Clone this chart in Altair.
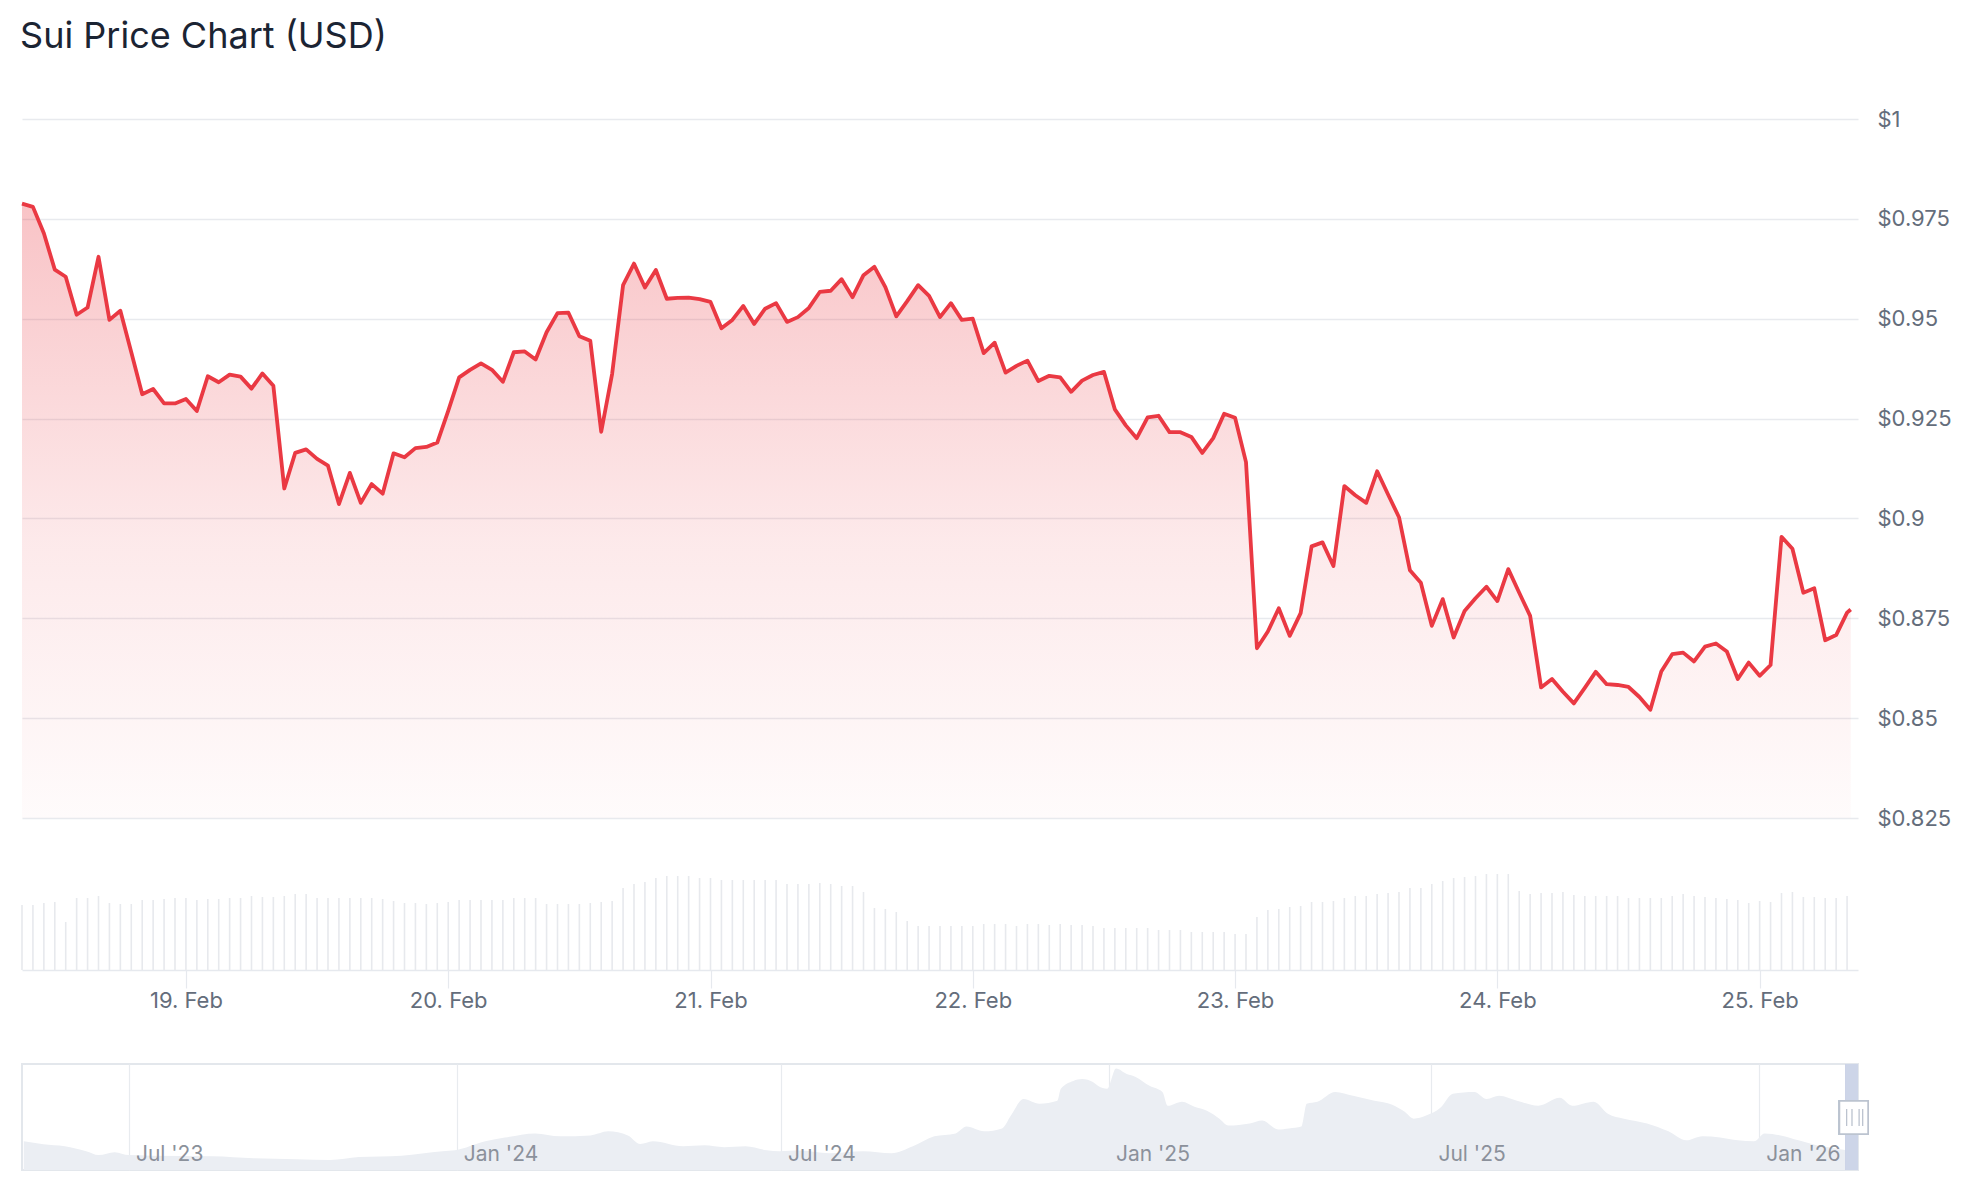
import altair as alt
import pandas as pd

# ---------------- data ----------------
prices = [
    0.9788, 0.9780, 0.9714, 0.9623, 0.9605, 0.9510, 0.9528, 0.9655, 0.9497, 0.9520,
    0.9416, 0.9311, 0.9324, 0.9288, 0.9288, 0.9299, 0.9269, 0.9356, 0.9341, 0.9360,
    0.9355, 0.9325, 0.9363, 0.9332, 0.9075, 0.9164, 0.9173, 0.9149, 0.9132, 0.9036,
    0.9114, 0.9039, 0.9086, 0.9062, 0.9163, 0.9153, 0.9176, 0.9179, 0.9190, 0.9269,
    0.9353, 0.9372, 0.9388, 0.9372, 0.9342, 0.9416, 0.9418, 0.9398, 0.9466, 0.9514,
    0.9515, 0.9456, 0.9445, 0.9217, 0.9362, 0.9584, 0.9638, 0.9578, 0.9622, 0.9550,
    0.9552, 0.9553, 0.9549, 0.9542, 0.9476, 0.9497, 0.9532, 0.9487, 0.9525, 0.9539,
    0.9492, 0.9504, 0.9527, 0.9567, 0.9570, 0.9599, 0.9554, 0.9609, 0.9630, 0.9579,
    0.9506, 0.9544, 0.9584, 0.9557, 0.9504, 0.9539, 0.9497, 0.9500, 0.9414, 0.9440,
    0.9365, 0.9382, 0.9395, 0.9344, 0.9357, 0.9353, 0.9317, 0.9345, 0.9359, 0.9367,
    0.9273, 0.9233, 0.9201, 0.9253, 0.9257, 0.9216, 0.9216, 0.9204, 0.9164, 0.9201,
    0.9262, 0.9252, 0.9141, 0.8675, 0.8717, 0.8775, 0.8706, 0.8763, 0.8930, 0.8940,
    0.8881, 0.9081, 0.9058, 0.9039, 0.9118, 0.9060, 0.9003, 0.8870, 0.8839, 0.8731,
    0.8798, 0.8702, 0.8768, 0.8800, 0.8829, 0.8793, 0.8873, 0.8814, 0.8756, 0.8577,
    0.8598, 0.8566, 0.8537, 0.8576, 0.8616, 0.8585, 0.8583, 0.8578, 0.8553, 0.8521,
    0.8617, 0.8660, 0.8664, 0.8642, 0.8679, 0.8687, 0.8667, 0.8598, 0.8639, 0.8606,
    0.8633, 0.8954, 0.8924, 0.8814, 0.8825, 0.8695, 0.8708, 0.8764, 0.8772,
]
price_last_time = "2026-02-25T08:20:00"

volumes = [
    65, 65, 67, 68, 48, 72, 72, 74, 67, 66, 66, 70, 70, 71, 72, 72, 70, 71, 71, 72,
    72, 74, 73, 73, 74, 76, 76, 72, 72, 72, 72, 72, 72, 71, 69, 67, 67, 66, 67, 68,
    70, 70, 70, 70, 70, 72, 72, 72, 66, 66, 66, 66, 67, 68, 69, 82, 86, 88, 92,
    94, 94, 94, 92, 92, 90, 90, 90, 90, 90, 90, 86, 86, 86, 87, 86, 84, 84, 78, 62,
    61, 58, 49, 44, 44, 44, 44, 44, 44, 46, 46, 46, 44, 46, 46, 45, 46, 45, 45, 44,
    42, 42, 42, 42, 42, 40, 40, 40, 38, 38, 38, 38, 36, 36,
    53, 60, 61, 63,
    64, 68, 68, 69, 72, 74, 74, 76, 77, 78, 82, 82, 86, 89, 92, 93, 94, 96, 96, 96,
    79, 76, 77, 77, 78, 75, 74, 74, 74, 74, 72, 72, 72, 72, 74, 76, 74, 73, 72, 71,
    70, 67, 69, 68, 77, 78, 73, 73, 72, 72, 74,
]

nav_dates = [
    "2023-05-03", "2023-05-14", "2023-05-26", "2023-06-07", "2023-06-14", "2023-06-23",
    "2023-07-01", "2023-07-13", "2023-08-17", "2023-09-09", "2023-10-03", "2023-10-22",
    "2023-11-07", "2023-12-01", "2023-12-24", "2023-12-31", "2024-01-17", "2024-01-28",
    "2024-02-14", "2024-02-28", "2024-03-16", "2024-03-26", "2024-04-06", "2024-04-13",
    "2024-04-20", "2024-05-07", "2024-05-19", "2024-05-30", "2024-06-11", "2024-06-23",
    "2024-06-30", "2024-07-12", "2024-07-28", "2024-08-16", "2024-09-01", "2024-09-13",
    "2024-09-25", "2024-10-07", "2024-10-13", "2024-10-23", "2024-11-02", "2024-11-07",
    "2024-11-14", "2024-11-23", "2024-12-03", "2024-12-05", "2024-12-12", "2024-12-17",
    "2024-12-23", "2024-12-26", "2024-12-31", "2025-01-05", "2025-01-11", "2025-01-16",
    "2025-01-24", "2025-01-31", "2025-02-03", "2025-02-11", "2025-02-18", "2025-02-25",
    "2025-03-04", "2025-03-09", "2025-03-21", "2025-03-28", "2025-04-06", "2025-04-12",
    "2025-04-19", "2025-04-22", "2025-04-28", "2025-05-08", "2025-05-18", "2025-05-30",
    "2025-06-09", "2025-06-16", "2025-06-21", "2025-06-28", "2025-07-06", "2025-07-13",
    "2025-07-25", "2025-08-01", "2025-08-08", "2025-08-18", "2025-08-30", "2025-09-11",
    "2025-09-18", "2025-09-30", "2025-10-08", "2025-10-17", "2025-10-30", "2025-11-11",
    "2025-11-21", "2025-11-30", "2025-12-10", "2025-12-20", "2025-12-29", "2026-01-04",
    "2026-01-13", "2026-01-23", "2026-02-02", "2026-02-12", "2026-02-19", "2026-02-25",
]
nav_prices = [
    1.40, 1.24, 1.13, 0.86, 0.65, 0.81,
    0.65, 0.62, 0.59, 0.48, 0.43, 0.38,
    0.54, 0.62, 0.86, 0.91, 1.40, 1.60,
    1.83, 1.67, 1.72, 1.94, 1.72, 1.25,
    1.40, 1.13, 1.18, 1.08, 1.13, 0.91,
    0.86, 0.90, 0.75, 0.86, 0.75, 1.13,
    1.67, 1.83, 2.20, 1.94, 2.10, 2.80,
    3.70, 3.44, 3.60, 4.25, 4.68, 4.78,
    4.62, 4.40, 4.25, 5.35, 5.05, 4.90,
    4.40, 4.08, 3.33, 3.55, 3.28, 3.06,
    2.63, 2.26, 2.37, 2.53, 2.04, 2.10,
    2.20, 3.44, 3.55, 4.08, 3.87, 3.60,
    3.39, 3.00, 2.63, 2.80, 3.22, 3.98,
    4.08, 3.70, 3.87, 3.60, 3.33, 3.76,
    3.33, 3.55, 2.90, 2.63, 2.37, 1.94,
    1.45, 1.67, 1.61, 1.45, 1.40, 1.83,
    1.72, 1.45, 1.18, 1.02, 0.91, 0.877,
]

price_ticks = [0.825, 0.85, 0.875, 0.9, 0.925, 0.95, 0.975, 1.0]
nav_label_dates = ["2023-07-01", "2024-01-01", "2024-07-01", "2025-01-01", "2025-07-01", "2026-01-01"]
nav_label_text = ["Jul '23", "Jan '24", "Jul '24", "Jan '25", "Jul '25", "Jan '26"]

# ---------------- frames ----------------
hours = pd.date_range("2026-02-18T09:00:00", periods=len(volumes), freq="h")
price_times = [t.strftime("%Y-%m-%dT%H:%M:%S") for t in hours] + [price_last_time]
price_df = pd.DataFrame({"t": price_times, "p": prices})
vol_df = pd.DataFrame({"t": [t.strftime("%Y-%m-%dT%H:%M:%S") for t in hours], "v": volumes})
nav_df = pd.DataFrame({"d": nav_dates, "p": nav_prices})
nav_lab_df = pd.DataFrame({"d": nav_label_dates, "label": nav_label_text})

# ---------------- layout constants ----------------
W = 1836
PRICE_H = 699
VOL_TOP = 741
TOP_H = 851
NAV_H = 106
FONT = "Inter"
LABEL_COLOR = "#646d7b"
GRID = "#e8eaee"

x_start = alt.DateTime(year=2026, month=2, date=18, hours=9)
x_end = alt.DateTime(year=2026, month=2, date=25, hours=9)
x_scale = alt.Scale(domain=[x_start, x_end])
x_axis = alt.Axis(
    format="%-d. %b",
    tickCount=alt.TimeIntervalStep(interval="day", step=1),
    grid=False,
    domainColor="#e6e9ee",
    domainWidth=1.5,
    tickColor="#e6e9ee",
    tickWidth=1.2,
    tickSize=18,
    labelPadding=2,
    labelFontSize=22,
    labelFont=FONT,
    labelColor=LABEL_COLOR,
    title=None,
)
x_enc = alt.X("t:T", scale=x_scale, axis=x_axis, title=None)

price_scale = alt.Scale(domain=[0.825, 1.0], range=[PRICE_H, 0], zero=False, nice=False)
price_axis = alt.Axis(
    orient="right",
    values=price_ticks,
    labelExpr="'$' + datum.value",
    grid=True,
    gridColor=GRID,
    gridWidth=1.5,
    domain=False,
    ticks=False,
    labelPadding=19,
    labelFontSize=22,
    labelFont=FONT,
    labelColor=LABEL_COLOR,
    title=None,
)

gradient = alt.Gradient(
    gradient="linear",
    stops=[
        alt.GradientStop(color="rgba(234,57,67,0.30)", offset=0),
        alt.GradientStop(color="rgba(234,57,67,0.11)", offset=0.55),
        alt.GradientStop(color="rgba(234,57,67,0.02)", offset=1),
    ],
    x1=1, x2=1, y1=0, y2=1,
)

price_base = alt.Chart(price_df)
area = price_base.mark_area(color=gradient, interpolate="linear").encode(
    x=x_enc,
    y=alt.Y("p:Q", scale=price_scale, axis=price_axis, title=None),
    y2=alt.datum(0.825),
)
line = price_base.mark_line(color="#ea3943", strokeWidth=3.8, strokeJoin="round").encode(
    x=x_enc,
    y=alt.Y("p:Q", scale=price_scale, axis=price_axis, title=None),
)
price_layer = alt.layer(area, line)

vol = alt.Chart(vol_df).mark_rule(color="#e7e9ed", strokeWidth=1.6).encode(
    x=x_enc,
    y=alt.Y("v:Q", scale=alt.Scale(domain=[0, 110], range=[TOP_H, VOL_TOP]), axis=None),
    y2=alt.datum(0),
)

top = (
    alt.layer(price_layer, vol)
    .resolve_scale(y="independent")
    .resolve_axis(y="independent")
    .properties(width=W, height=TOP_H)
)

# ---------------- navigator ----------------
nav_scale = alt.Scale(
    domain=[alt.DateTime(year=2023, month=5, date=2), x_end]
)
nav_axis = alt.Axis(
    grid=True,
    gridColor="#e8ebef",
    gridWidth=1.2,
    labels=False,
    ticks=False,
    domain=False,
    tickCount=alt.TimeIntervalStep(interval="month", step=6),
    title=None,
)
nav_y = alt.Scale(domain=[-0.16, 5.6], range=[NAV_H, 0], zero=False, nice=False)

nav_area = alt.Chart(nav_df).mark_area(color="#ebeef3", interpolate="monotone").encode(
    x=alt.X("d:T", scale=nav_scale, axis=nav_axis, title=None),
    y=alt.Y("p:Q", scale=nav_y, axis=None),
    y2=alt.datum(-0.16),
)
nav_labels = alt.Chart(nav_lab_df).mark_text(
    align="left", baseline="middle", dx=7, fontSize=21, font=FONT, color="#8b919b"
).encode(
    x=alt.X("d:T", scale=nav_scale, axis=nav_axis, title=None),
    y=alt.value(NAV_H - 15),
    text="label:N",
)
sel = alt.Chart(nav_df).mark_rect(color="#ccd5e8", opacity=0.85).encode(
    x=alt.datum(x_start, scale=nav_scale),
    x2=alt.datum(x_end),
    y=alt.value(0),
    y2=alt.value(NAV_H),
)
handle = alt.Chart(nav_df).mark_rect(fill="white", stroke="#bcc3cf", strokeWidth=1.5).encode(
    x=alt.datum(alt.DateTime(year=2026, month=2, date=15)),
    x2=alt.datum(alt.DateTime(year=2026, month=3, date=3)),
    y=alt.value(37),
    y2=alt.value(70),
)
grip_dates = pd.DataFrame({"d": ["2026-02-19", "2026-02-22", "2026-02-26", "2026-02-28"]})
grips = alt.Chart(grip_dates).mark_rule(color="#bcc3cf", strokeWidth=1.3).encode(
    x=alt.X("d:T", scale=nav_scale, axis=nav_axis, title=None),
    y=alt.value(45),
    y2=alt.value(62),
)

nav = (
    alt.layer(nav_area, nav_labels, sel, handle, grips)
    .properties(width=W, height=NAV_H, view=alt.ViewBackground(stroke="#e3e7ec", strokeWidth=2))
)

chart = (
    alt.vconcat(top, nav, spacing=94, bounds="flush")
    .properties(
        title=alt.TitleParams(
            "Sui Price Chart (USD)",
            anchor="start",
            fontSize=36,
            font=FONT,
            fontWeight=400,
            color="#1b2433",
            offset=52,
        ),
        padding={"left": 12, "top": 11, "right": 5, "bottom": 5},
    )
    .configure_view(strokeWidth=0)
)

chart.save("out.html", embed_options={"renderer": "svg", "actions": False})
